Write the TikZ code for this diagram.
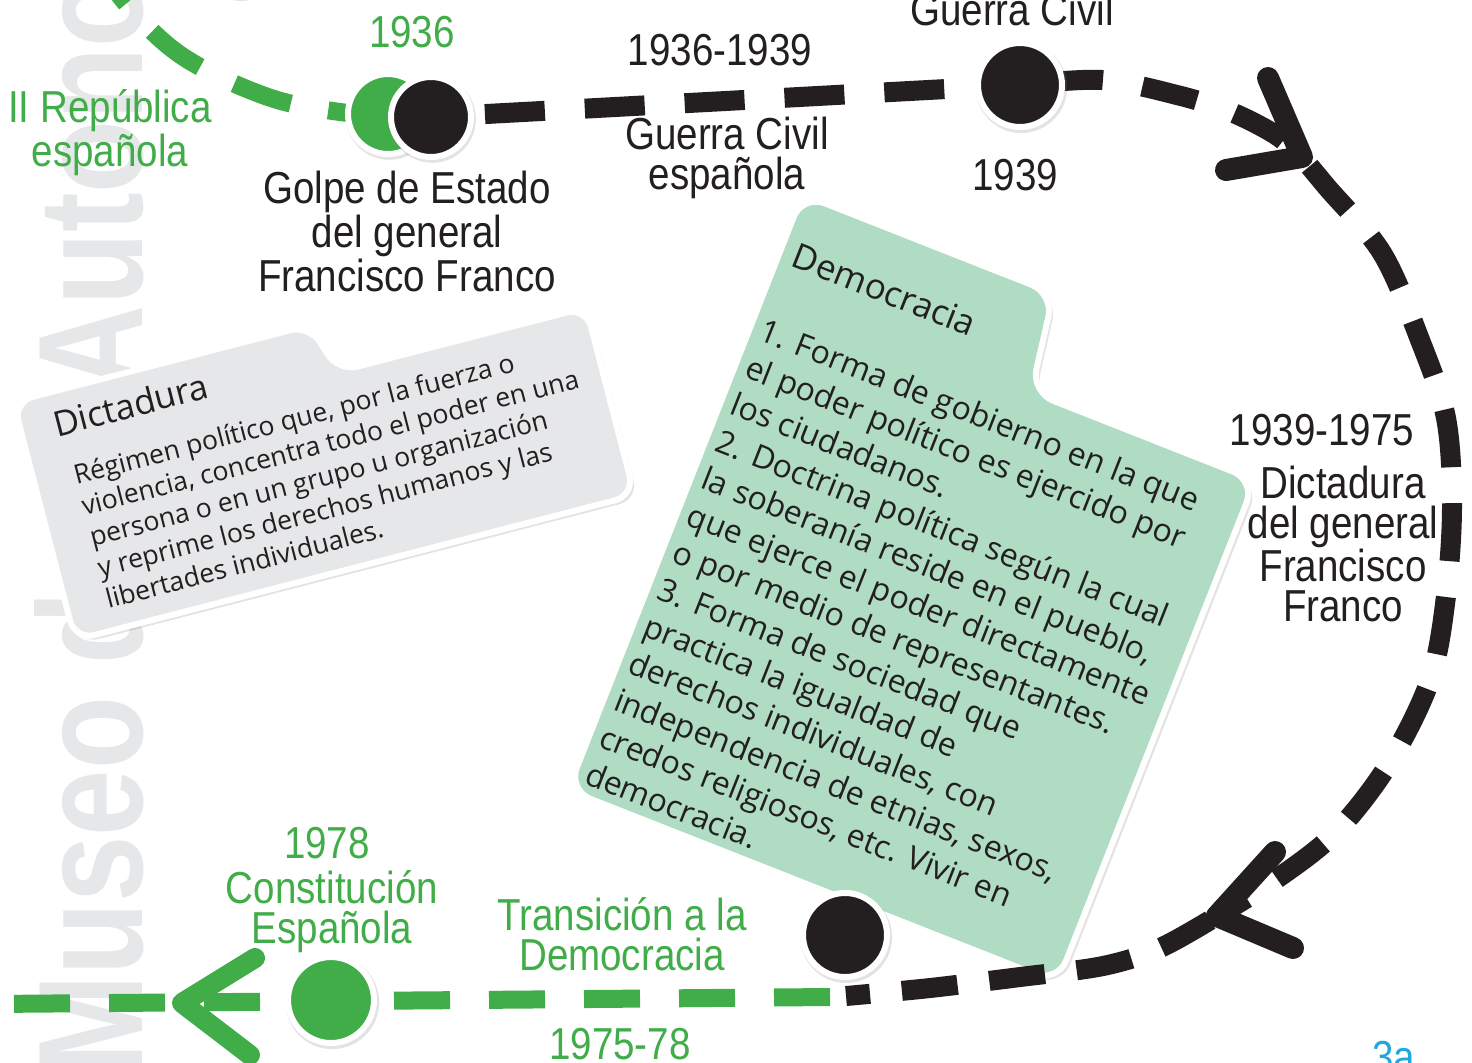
\documentclass[tikz,border=0pt]{standalone}
\usepackage{fontspec}
\setmainfont{Liberation Sans}
\newfontfamily\lblfont[FakeStretch=0.86]{Liberation Sans}
\newfontfamily\boxfont{Open Sans}
\newfontfamily\wmfont[FakeStretch=0.8]{Liberation Sans}
\usetikzlibrary{shadows}
\definecolor{tgreen}{HTML}{41AD49}
\definecolor{tblack}{HTML}{231F20}
\definecolor{boxgreen}{HTML}{AFDCC2}
\definecolor{boxgray}{HTML}{E6E7E8}
\definecolor{wmgray}{HTML}{E6E7E8}
\definecolor{pagecyan}{HTML}{1FA8E0}
\tikzset{
  lbl/.style={font=\lblfont\fontsize{22.4}{19.6}\selectfont, align=center, anchor=base, inner sep=0pt},
  glbl/.style={lbl, text=tgreen},
  blbl/.style={lbl, text=tblack},
  wm/.style={rotate=90, anchor=base west, text=wmgray, inner sep=0pt,
    font=\wmfont\bfseries\fontsize{74.5}{74.5}\selectfont},
  bdash/.style={draw=tblack, line width=10pt, dash pattern=on 30pt off 20pt},
  bloopA/.style={draw=tblack, line width=10pt, dash pattern=on 28pt off 16pt},
  bloopB/.style={draw=tblack, line width=10pt, dash pattern=on 29pt off 18pt},
  bloopC/.style={draw=tblack, line width=10pt, dash pattern=on 28pt off 20pt},
  gdash/.style={draw=tgreen, line width=9pt, dash pattern=on 30pt off 19pt},
  gdashb/.style={draw=tgreen, line width=9pt, dash pattern=on 28pt off 19.5pt},
  barrow/.style={draw=tblack, line width=11pt, line cap=round, line join=round},
  garrow/.style={draw=tgreen, line width=10pt, line cap=round, line join=round},
  dot/.style={circle, draw=white, line width=3pt, minimum size=42pt, inner sep=0pt,
    drop shadow={shadow scale=1.09, shadow xshift=0.6pt, shadow yshift=-1pt, opacity=0.22}},
  bdot/.style={dot, fill=tblack},
  gdot/.style={dot, fill=tgreen},
  boxshape/.style={draw=white, line width=3pt, rounded corners=10pt,
    drop shadow={shadow xshift=2pt, shadow yshift=-2pt, opacity=0.22}},
  boxtext/.style={anchor=base west, inner sep=0pt, text=tblack, align=left}
}
\begin{document}
\begin{tikzpicture}[x=0.5pt, y=-0.5pt]
\useasboundingbox (0,0) rectangle (1472,1062);
\clip (0,0) rectangle (1472,1062);
\fill[white] (0,0) rectangle (1472,1062);

% watermark
\node[wm] (wm1) at (142,1075) {Museo de la};
\node[wm] (wm2) at (142,392) {Autonomía};

% key positions
\coordinate (pTop) at (240,-47);
\coordinate (p1936g) at (388,114);
\coordinate (p1936b) at (431,117);
\coordinate (p1939) at (1020,85);
\coordinate (pTrans) at (845,935);
\coordinate (p1978) at (331,1000);
\coordinate (pLoopEnd) at (846,996);
\coordinate (pGreenStart) at (830,997);
\coordinate (pGreenEnd) at (-10,1004);
\coordinate (aTR) at (1302,157);
\coordinate (aBR) at (1217,916);
\coordinate (aBL) at (182,1003);

\node[gdot, minimum size=42pt] (dTop) at (pTop) {};

% Dictadura box
\begin{scope}[shift={(37.5pt,-320pt)}, rotate=14.5, x=0.5pt, y=0.5pt, transform shape]
  \path[boxshape, fill=boxgray] (0,0) -- (578,0) -- (578,194) -- (322,194) -- (306,246) -- (0,246) -- cycle;
  \node[boxtext, font=\boxfont\fontsize{17.5}{17.5}\selectfont] (dictTitle) at (33,201) {Dictadura};
  \node[boxtext, font=\boxfont\fontsize{13.3}{16}\selectfont] (dictBody) at (40,22)
    {Régimen político que, por la fuerza o\\violencia, concentra todo el poder en una\\persona o en un grupo u organización\\y reprime los derechos humanos y las\\libertades individuales.};
\end{scope}

% Democracia box
\begin{scope}[shift={(284pt,-395pt)}, rotate=-21.5, x=0.5pt, y=0.5pt, transform shape]
  \path[boxshape, fill=boxgreen, rounded corners=12pt] (0,0) -- (526,0) -- (526,540) -- (285,540) -- (270,640) -- (0,640) -- cycle;
  \node[boxtext, font=\boxfont\fontsize{17.5}{17.5}\selectfont] (demTitle) at (14,569) {Democracia};
  \node[boxtext, font=\boxfont\fontsize{16}{19.85}\selectfont] (demBody) at (11,12)
    {1. Forma de gobierno en la que\\el poder político es ejercido por\\los ciudadanos.\\2. Doctrina política según la cual\\la soberanía reside en el pueblo,\\que ejerce el poder directamente\\o por medio de representantes.\\3. Forma de sociedad que\\practica la igualdad de\\derechos individuales, con\\independencia de etnias, sexos,\\credos religiosos, etc. Vivir en\\democracia.};
\end{scope}

% timeline
\draw[gdash] plot[smooth, tension=0.6] coordinates {(p1936g) (340,112) (268,97) (185,58) (130,8) (95,-40)};
\draw[bdash, dash phase=23pt] (p1936b) -- (p1939);
% loop, in three stretches between the arrow tips
\draw[bloopC, dash phase=35.5pt] plot[smooth, tension=0.55] coordinates {(aTR) (1276,135) (1231,112) (1177,95) (1102,80) (p1939)};
\draw[bloopB, dash phase=41pt] plot[smooth, tension=0.55] coordinates {(aTR) (1326,186) (1382,253) (1420,340) (1446,418) (1452,506) (1446,596) (1430,680) (1388,765) (1335,833) (1275,880) (aBR)};
\draw[bloopA, dash phase=40pt] plot[smooth, tension=0.55] coordinates {(aBR) (1160,948) (1103,966) (1020,977) (930,988) (pLoopEnd)};
\draw[gdashb] (pGreenStart) -- (pGreenEnd);

% arrow heads
\draw[barrow] (1268,78) -- (aTR) -- (1226,170);
\draw[barrow] (1275,852) -- (aBR) -- (1293,948);
\draw[garrow] (255,958) -- (aBL) -- (250,1055);

% dots
\node[gdot, minimum size=40pt] (d1936g) at (p1936g) {};
\node[bdot, minimum size=40pt] (d1936b) at (p1936b) {};
\node[bdot] (d1939) at (p1939) {};
\node[bdot] (dTrans) at (pTrans) {};
\node[gdot, minimum size=43pt] (d1978) at (p1978) {};

% labels (base = baseline of the last line)
\node[glbl] (l1936) at (412,47) {1936};
\node[glbl] (lRep) at (110,166) {II República\\española};
\node[blbl] (lGolpe) at (407,291) {Golpe de Estado\\del general\\Francisco Franco};
\node[blbl] (l3639) at (720,65) {1936-1939};
\node[blbl] (lGuerra) at (727,189) {Guerra Civil\\española};
\node[blbl] (lGuerraTop) at (1012,25) {Guerra Civil};
\node[blbl] (l1939) at (1015,190) {1939};
\node[blbl] (l3975) at (1322,445) {1939-1975};
\node[blbl] (lDict) at (1343,621) {Dictadura\\del general\\Francisco\\Franco};
\node[glbl] (l1978) at (327,858) {1978};
\node[glbl] (lConst) at (332,943) {Constitución\\Española};
\node[glbl] (lTrans) at (622,970) {Transición a la\\Democracia};
\node[glbl] (l7578) at (620,1059) {1975-78};
\node[lbl, anchor=base west, text=pagecyan] (lPage) at (1372,1072) {3a};
\end{tikzpicture}
\end{document}
